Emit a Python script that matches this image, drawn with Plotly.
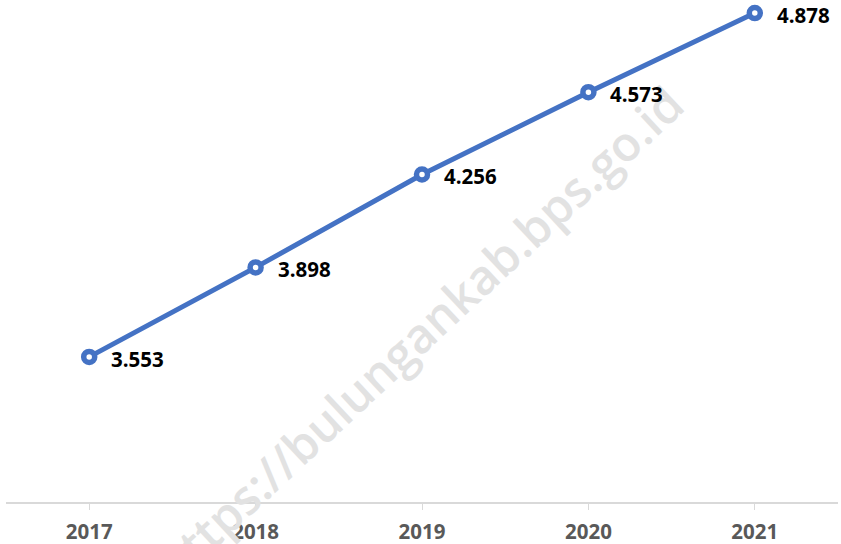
import plotly.graph_objects as go

years = ["2017", "2018", "2019", "2020", "2021"]
values = [3.553, 3.898, 4.256, 4.573, 4.878]
labels = ["3.553", "3.898", "4.256", "4.573", "4.878"]
watermark = "https://bulungankab.bps.go.id"

BLUE = "#4472C4"

fig = go.Figure()
fig.add_trace(go.Scatter(
    x=years, y=values, mode="lines+markers",
    line=dict(color=BLUE, width=5),
    marker=dict(symbol="circle", size=11, color="white",
                line=dict(color=BLUE, width=5.5)),
    hoverinfo="skip", showlegend=False, cliponaxis=False,
))

fig.add_annotation(xref="paper", yref="paper", x=0.496, y=0.34, text=watermark,
                   showarrow=False, textangle=-43,
                   font=dict(family="Open Sans", size=48, color="#e2e2e2", weight=600))

for i, (v, t) in enumerate(zip(values, labels)):
    fig.add_annotation(x=i, y=v, text=t, showarrow=False,
                       xanchor="left", yanchor="middle", xshift=20, yshift=-2,
                       font=dict(family="Open Sans", size=20.5, color="black", weight="bold"))

fig.update_layout(
    width=841, height=544,
    margin=dict(l=6, r=3, t=5, b=42, autoexpand=False),
    paper_bgcolor="white", plot_bgcolor="white",
    xaxis=dict(type="category", range=[-0.5, 4.5], showgrid=False,
               showline=True, linecolor="#d9d9d9", linewidth=2,
               ticks="outside", ticklen=6, tickcolor="#d9d9d9", tickwidth=1,
               ticklabelstandoff=4,
               tickfont=dict(family="Open Sans", size=20.5, color="#595959", weight="bold"),
               zeroline=False),
    yaxis=dict(range=[2.994, 4.909], visible=False, showgrid=False, zeroline=False),
)

fig.write_html("out.html", config={"displayModeBar": False},
               post_script="document.body.style.margin='0';document.body.style.overflow='hidden';")
